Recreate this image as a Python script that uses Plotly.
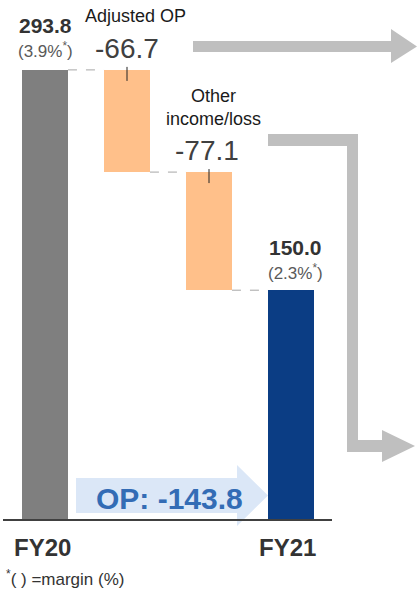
import plotly.graph_objects as go

# ---- data ----
categories = ["FY20", "Adjusted OP", "Other income/loss", "FY21"]
start_value = 293.8
deltas = [-66.7, -77.1]
end_value = 150.0
margins = ["(3.9%<sup>*</sup>)", "(2.3%<sup>*</sup>)"]
delta_labels = ["Adjusted OP", "Other<br>income/loss"]
tick_labels = ["FY20", "FY21"]
op_change = -143.8

W, H = 417, 598
PXU = 1.532            # pixels per unit
BASE_PY = 520          # pixel row of zero
X0_PX, XSTEP = 45, 82  # pixel of first category, pixel step

y_lo = -(H - BASE_PY) / PXU
y_hi = BASE_PY / PXU
x_lo = -X0_PX / XSTEP
x_hi = (W - X0_PX) / XSTEP

def PX(px):
    return px / W

def PY(py):
    return 1 - py / H

def poly(points):
    s = "M {} {}".format(PX(points[0][0]), PY(points[0][1]))
    for px, py in points[1:]:
        s += " L {} {}".format(PX(px), PY(py))
    return s + " Z"

# waterfall geometry from data
levels = [start_value]
for d in deltas:
    levels.append(round(levels[-1] + d, 1))
bases = [0]
heights = [start_value]
for i, d in enumerate(deltas):
    bases.append(levels[i + 1])
    heights.append(-d)
bases.append(0)
heights.append(end_value)
colors = ["#7f7f7f", "#ffc08a", "#ffc08a", "#0b3d84"]
xs = list(range(len(categories)))
bw = 0.56

fig = go.Figure()
fig.add_trace(go.Bar(
    x=xs, y=heights, base=bases, width=bw,
    marker=dict(color=colors, line=dict(width=0)),
    hoverinfo="skip", showlegend=False,
))

font = "Arial, Liberation Sans, sans-serif"
shapes = []
annotations = []

# light blue arrow (below bars)
shapes.append(dict(
    type="path", xref="paper", yref="paper", layer="below",
    path=poly([(76, 478), (237, 478), (237, 465), (268, 495.5),
               (237, 526), (237, 513), (76, 513)]),
    fillcolor="#dbe7f7", line=dict(width=0),
))

# connectors
for i in range(len(categories) - 1):
    shapes.append(dict(
        type="line", xref="x", yref="y",
        x0=xs[i] + bw / 2, x1=xs[i + 1] - bw / 2, y0=levels[i], y1=levels[i],
        line=dict(color="#a6a6a6", width=1, dash="dash"),
    ))

# axis line
shapes.append(dict(
    type="line", xref="paper", yref="y",
    x0=PX(3), x1=PX(332), y0=0, y1=0,
    line=dict(color="#404040", width=2),
))

# small ticks into delta bars
for i in range(len(deltas)):
    shapes.append(dict(
        type="line", xref="x", yref="y", ysizemode="pixel", yanchor=levels[i],
        x0=xs[i + 1], x1=xs[i + 1], y0=3, y1=-11,
        line=dict(color="#222222", width=1),
    ))

# gray arrows
shapes.append(dict(
    type="path", xref="paper", yref="paper",
    path=poly([(193, 41), (391, 41), (391, 29), (417, 46.5), (391, 63),
               (391, 52), (193, 52)]),
    fillcolor="#bfbfbf", line=dict(width=0),
))
shapes.append(dict(
    type="path", xref="paper", yref="paper",
    path=poly([(268, 134), (358, 134), (358, 440), (382, 440), (382, 430),
               (415, 446), (382, 462), (382, 452), (347, 452), (347, 146),
               (268, 146)]),
    fillcolor="#bfbfbf", line=dict(width=0),
))

def ann(text, x, y, size, color="#404040", bold=False, xshift=0, yshift=0,
        xref="x", yref="y", xanchor="center"):
    annotations.append(dict(
        text=text, x=x, y=y, xref=xref, yref=yref, xshift=xshift, yshift=yshift,
        showarrow=False, xanchor=xanchor, yanchor="middle",
        font=dict(family=font, size=size, color=color,
                  weight="bold" if bold else "normal"),
    ))

# totals labels
ann(f"{start_value:.1f}", xs[0], start_value, 21, "#333333", True, 0, 44)
ann(margins[0], xs[0], start_value, 17, "#595959", False, 0, 20)
ann(f"{end_value:.1f}", xs[3], end_value, 21, "#333333", True, 4, 43)
ann(margins[1], xs[3], end_value, 17, "#595959", False, 4, 18)

# delta labels
ann(delta_labels[0], xs[1], levels[0], 18, "#1a1a1a", False, 8, 54)
ann(f"{deltas[0]:.1f}", xs[1], levels[0], 28, "#404040", False, 0, 21)
ann(delta_labels[1], xs[2], levels[1], 18, "#1a1a1a", False, 4, 65)
ann(f"{deltas[1]:.1f}", xs[2], levels[1], 28, "#404040", False, -2, 22)

# category labels
ann(tick_labels[0], xs[0], 0, 24, "#333333", True, -3, -27)
ann(tick_labels[1], xs[3], 0, 24, "#333333", True, -4, -27)

# OP change
ann(f"OP: {op_change:.1f}", PX(169), 0, 30, "#336cb5", True, 0, 22, xref="paper")

# footnote
ann("<sup>*</sup>( ) =margin (%)", PX(4), 0, 17, "#333333", False, 0, -58,
    xref="paper", xanchor="left")

fig.update_layout(
    width=W, height=H,
    margin=dict(l=0, r=0, t=0, b=0),
    paper_bgcolor="white", plot_bgcolor="white",
    xaxis=dict(range=[x_lo, x_hi], visible=False, fixedrange=True),
    yaxis=dict(range=[y_lo, y_hi], visible=False, fixedrange=True),
    shapes=shapes, annotations=annotations,
    bargap=0, showlegend=False,
)

fig.write_html("out.html")
